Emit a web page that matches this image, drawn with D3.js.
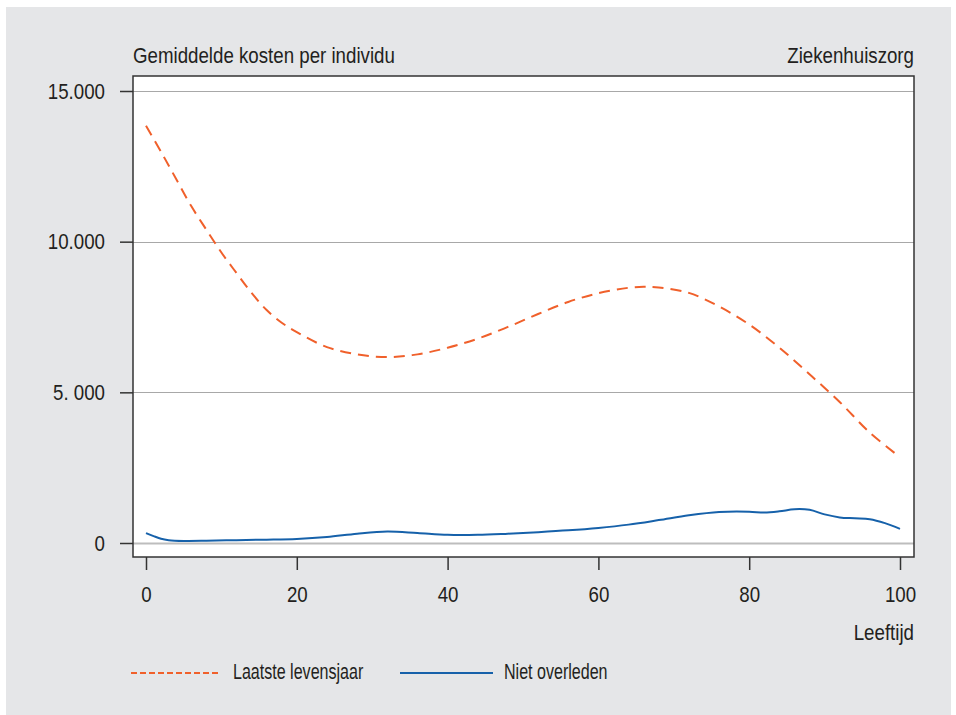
<!DOCTYPE html>
<html>
<head>
<meta charset="utf-8">
<script src="https://cdn.jsdelivr.net/npm/d3@7"></script>
<style>
html,body{margin:0;padding:0;background:#fff;}
svg text{font-family:"Liberation Sans",Arial,sans-serif;fill:#231f20;}
</style>
</head>
<body>
<svg id="chart" width="956" height="715"></svg>
<script>
const xTicks = [0, 20, 40, 60, 80, 100];
const yTicks = [0, 5000, 10000, 15000];
const yTickLabels = ["0", "5. 000", "10.000", "15.000"];

const agesLaatste = [0, 2, 4, 6, 8, 10, 12, 14, 16, 18, 20, 24, 28, 32, 36, 40, 44, 48, 52, 56, 60, 64, 66, 68, 72, 76, 80, 84, 88, 92, 96, 100];
const valuesLaatste = [13850, 12980, 12080, 11180, 10400, 9640, 8960, 8300, 7730, 7310, 7000, 6500, 6260, 6170, 6260, 6480, 6780, 7170, 7600, 8000, 8290, 8470, 8500, 8480, 8300, 7850, 7250, 6480, 5600, 4680, 3660, 2850];

const agesNiet = [0, 1, 2, 3, 5, 8, 12, 16, 20, 24, 28, 32, 36, 40, 44, 48, 52, 56, 60, 64, 68, 72, 76, 80, 82, 84, 86, 88, 90, 92, 94, 96, 98, 100];
const valuesNiet = [330, 230, 140, 95, 70, 75, 95, 110, 135, 200, 310, 380, 330, 270, 270, 310, 360, 420, 500, 610, 760, 920, 1030, 1040, 1010, 1050, 1120, 1100, 950, 850, 820, 790, 660, 470];

const seriesNames = ["Laatste levensjaar", "Niet overleden"];
const seriesColors = ["#f0602b", "#1661aa"];

const FS = 22, SX = 0.85, SX_LEGEND = 0.73;

const svg = d3.select("#chart");
svg.append("rect").attr("x", 6).attr("y", 7).attr("width", 945).attr("height", 708).attr("fill", "#e5e6e8");

const frame = {left: 133, top: 76, right: 914, bottom: 557};
const x = d3.scaleLinear().domain([0, 100]).range([146, 900]);
const y = d3.scaleLinear().domain([0, 15000]).range([543, 91]);

svg.append("rect").attr("x", frame.left).attr("y", frame.top)
  .attr("width", frame.right - frame.left).attr("height", frame.bottom - frame.top)
  .attr("fill", "#fff");

// gridlines
svg.append("g").selectAll("line").data(yTicks).join("line")
  .attr("x1", frame.left).attr("x2", frame.right)
  .attr("y1", d => Math.round(y(d)) + 0.5).attr("y2", d => Math.round(y(d)) + 0.5)
  .attr("stroke", d => d === 0 ? "#bdbdbd" : "#a8a8a8")
  .attr("stroke-width", d => d === 0 ? 2 : 1.2);

// y axis
const yAxis = d3.axisLeft(y).tickValues(yTicks).tickSize(13).tickPadding(15)
  .tickFormat((d, i) => yTickLabels[i]);
const gy = svg.append("g").attr("transform", `translate(${frame.left},0)`).call(yAxis);
gy.select(".domain").remove();
gy.selectAll(".tick line").attr("stroke", "#333").attr("stroke-width", 1.5);
gy.selectAll(".tick text").attr("font-size", FS).attr("fill", "#231f20")
  .attr("font-family", "'Liberation Sans',Arial,sans-serif")
  .attr("x", -28 / SX).attr("transform", `scale(${SX},1)`);

// x axis
const xAxis = d3.axisBottom(x).tickValues(xTicks).tickSize(13).tickPadding(16);
const gx = svg.append("g").attr("transform", `translate(0,${frame.bottom})`).call(xAxis);
gx.select(".domain").remove();
gx.selectAll(".tick line").attr("stroke", "#333").attr("stroke-width", 1.5);
gx.selectAll(".tick text").attr("font-size", FS).attr("fill", "#231f20")
  .attr("font-family", "'Liberation Sans',Arial,sans-serif")
  .attr("transform", `scale(${SX},1)`);

// frame border
svg.append("rect").attr("x", frame.left).attr("y", frame.top)
  .attr("width", frame.right - frame.left).attr("height", frame.bottom - frame.top)
  .attr("fill", "none").attr("stroke", "#333").attr("stroke-width", 1.5);

const line = d3.line().x(d => x(d[0])).y(d => y(d[1])).curve(d3.curveCatmullRom.alpha(0.5));

svg.append("path").datum(agesNiet.map((a, i) => [a, valuesNiet[i]]))
  .attr("d", line).attr("fill", "none").attr("stroke", seriesColors[1]).attr("stroke-width", 2);

svg.append("path").datum(agesLaatste.map((a, i) => [a, valuesLaatste[i]]))
  .attr("d", line).attr("fill", "none").attr("stroke", seriesColors[0]).attr("stroke-width", 2)
  .attr("stroke-dasharray", "11,7");

function addText(tx, ty, str, anchor, sx) {
  svg.append("text").attr("transform", `translate(${tx},${ty}) scale(${sx || SX},1)`)
    .attr("font-size", FS).attr("text-anchor", anchor || "start").text(str);
}

// titles
addText(133, 63, "Gemiddelde kosten per individu");
addText(914, 63, "Ziekenhuiszorg", "end");
addText(914, 640, "Leeftijd", "end");

// legend
const legend = [
  {x1: 131, x2: 220, tx: 233, dash: "6,3"},
  {x1: 400, x2: 493, tx: 504, dash: null}
];
legend.forEach((l, i) => {
  svg.append("line").attr("x1", l.x1).attr("x2", l.x2).attr("y1", 673).attr("y2", 673)
    .attr("stroke", seriesColors[i]).attr("stroke-width", 2)
    .attr("stroke-dasharray", l.dash);
  addText(l.tx, 679, seriesNames[i], "start", SX_LEGEND);
});
</script>
</body>
</html>
